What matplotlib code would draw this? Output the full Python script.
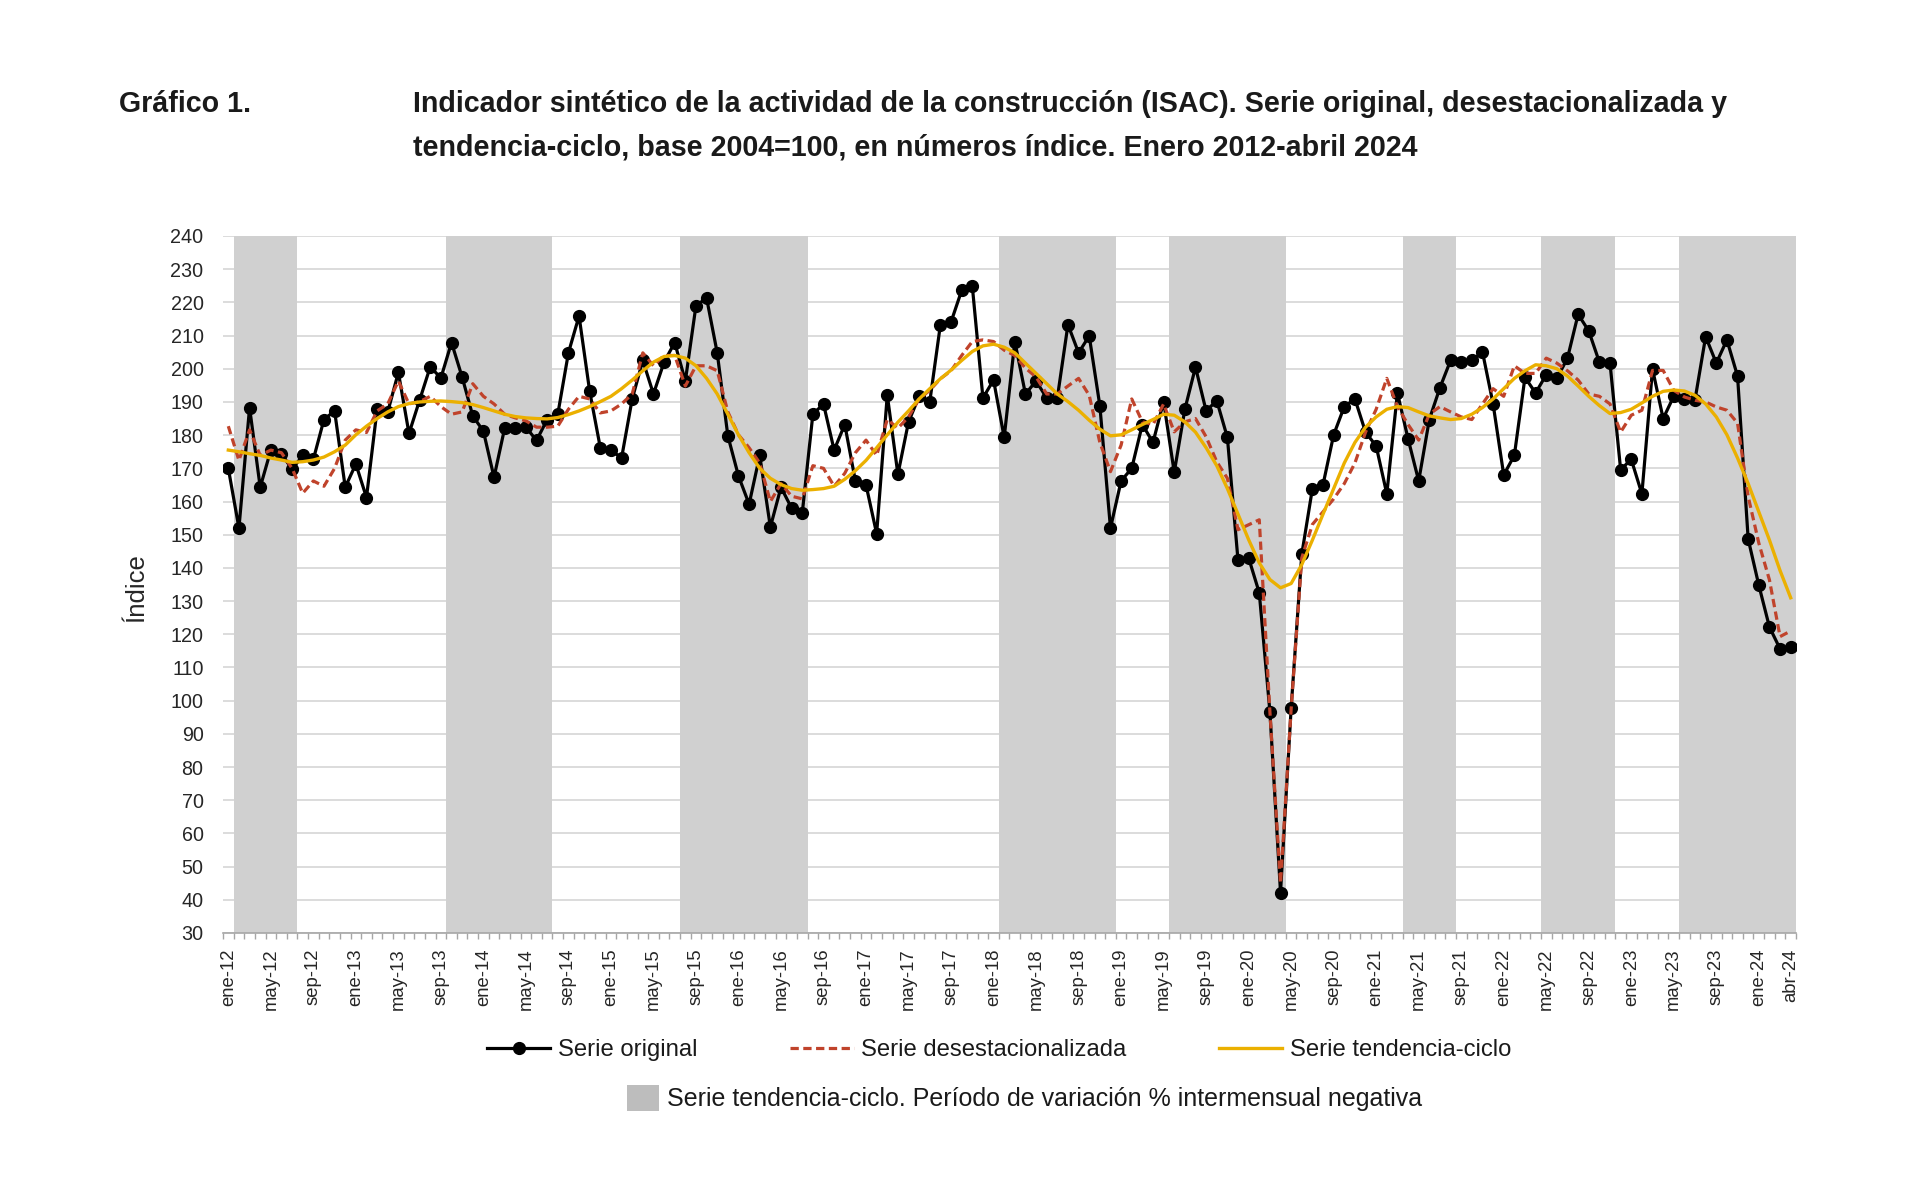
import matplotlib
matplotlib.use("Agg")
import matplotlib.pyplot as plt
from matplotlib.patches import Patch
import numpy as np

plt.rcParams['font.family'] = ['Liberation Sans', 'DejaVu Sans']

# ---------------- data ----------------
month_abbr = ['ene', 'feb', 'mar', 'abr', 'may', 'jun', 'jul', 'ago', 'sep', 'oct', 'nov', 'dic']
years = list(range(2012, 2025))
months = [f"{m}-{str(y)[2:]}" for y in years for m in month_abbr][:148]  # ene-12 .. abr-24

serie_original = [
    170.0, 152.0, 188.3, 164.3, 175.5, 174.4, 169.7, 173.9, 172.7, 184.7, 187.3, 164.3,
    171.3, 161.2, 187.8, 187.0, 198.9, 180.5, 190.6, 200.6, 197.2, 207.9, 197.5, 185.8,
    181.2, 167.3, 182.1, 182.1, 182.4, 178.4, 184.7, 186.3, 204.8, 215.9, 193.2, 176.2,
    175.5, 173.1, 190.9, 202.5, 192.4, 202.0, 207.9, 196.3, 219.0, 221.3, 204.8, 179.8,
    167.7, 159.2, 173.9, 152.3, 164.3, 158.0, 156.5, 186.3, 189.4, 175.5, 183.2, 166.2,
    165.0, 150.3, 192.1, 168.2, 184.0, 191.7, 190.1, 213.3, 214.1, 223.6, 224.9, 191.2,
    196.6, 179.3, 208.2, 192.4, 196.3, 191.2, 191.2, 213.3, 204.8, 209.9, 188.9, 152.0,
    166.2, 170.0, 183.2, 177.8, 190.1, 168.8, 187.8, 200.5, 187.3, 190.4, 179.3, 142.3,
    143.0, 132.5, 96.7, 42.2, 97.8, 144.1, 163.9, 165.1, 180.1, 188.6, 190.9, 180.9,
    176.7, 162.3, 192.7, 178.9, 166.2, 184.7, 194.3, 202.5, 202.0, 202.5, 205.1, 189.4,
    168.0, 173.9, 197.4, 192.7, 198.2, 197.1, 203.2, 216.4, 211.4, 202.0, 201.7, 169.6,
    172.7, 162.3, 199.9, 185.0, 191.7, 190.9, 190.7, 209.7, 201.7, 208.7, 197.8, 148.7,
    134.8, 122.2, 115.6, 116.2,
]

serie_desest = [
    182.7, 172.4, 181.6, 173.9, 175.5, 174.7, 170.0, 162.5, 166.2, 164.6, 170.0, 178.5,
    181.6, 180.8, 187.3, 189.4, 196.3, 189.4, 190.1, 191.7, 188.6, 186.3, 187.0, 195.5,
    191.7, 189.4, 186.3, 185.2, 184.3, 182.4, 182.4, 182.7, 187.8, 191.7, 190.9, 186.7,
    187.3, 189.4, 192.4, 204.8, 200.9, 204.0, 204.0, 194.8, 200.9, 200.9, 199.4, 187.0,
    180.1, 176.2, 171.6, 160.0, 165.4, 161.6, 160.8, 170.8, 170.0, 164.6, 168.5, 174.7,
    178.5, 173.9, 184.7, 182.1, 185.5, 190.9, 193.5, 197.0, 199.4, 204.0, 208.2, 208.7,
    208.2, 205.6, 204.0, 200.2, 197.5, 192.4, 192.4, 194.8, 197.1, 192.0, 177.8, 169.0,
    177.0, 190.9, 184.0, 183.2, 189.4, 181.0, 184.0, 185.0, 179.5, 172.0, 167.0, 151.5,
    153.0, 154.5, 96.7, 45.0, 97.5, 143.0, 153.1, 156.9, 160.8, 165.4, 171.6, 180.9,
    187.8, 197.1, 188.6, 183.2, 178.5, 186.3, 188.6, 187.0, 185.5, 184.7, 189.4, 194.0,
    191.7, 200.9, 198.6, 198.6, 203.2, 201.7, 199.4, 196.6, 192.4, 191.7, 189.4, 180.9,
    186.0, 187.5, 199.5, 199.5, 193.5, 191.5, 190.5, 190.0, 188.5, 187.5, 183.6, 161.5,
    147.5, 136.4, 119.3, 121.0,
]

serie_tendencia = [
    175.5, 175.0, 174.4, 173.9, 173.1, 172.5, 171.8, 172.0, 172.5, 173.4, 175.0, 177.0,
    180.1, 182.7, 185.0, 187.0, 188.6, 189.5, 190.0, 190.2, 190.3, 190.1, 189.8, 189.2,
    188.3, 187.3, 186.3, 185.6, 185.2, 185.0, 184.9, 185.3, 186.2, 187.3, 188.6, 190.1,
    191.7, 194.0, 196.6, 199.4, 202.0, 203.7, 204.0, 203.2, 200.9, 197.1, 192.4, 186.3,
    180.1, 174.7, 170.0, 167.0, 165.1, 163.9, 163.4, 163.6, 163.9, 164.6, 166.7, 169.3,
    172.4, 176.2, 180.1, 183.9, 187.3, 190.9, 194.0, 197.0, 199.6, 202.5, 205.2, 206.9,
    207.4, 206.5, 204.8, 201.7, 198.6, 195.5, 192.4, 190.1, 187.5, 184.5, 181.8, 179.8,
    180.1, 181.6, 183.2, 184.7, 186.3, 186.0, 184.0, 180.9, 176.2, 170.8, 163.9, 156.2,
    148.5, 141.5, 136.5, 134.0, 135.3, 141.0, 148.4, 156.2, 163.9, 171.6, 177.8, 182.4,
    185.5, 187.8, 188.6, 188.3, 187.0, 185.8, 185.2, 184.7, 185.0, 186.3, 188.3, 190.9,
    194.0, 197.1, 199.4, 201.2, 200.9, 200.0, 197.8, 194.8, 191.7, 188.9, 186.5, 186.8,
    187.8, 189.7, 191.7, 193.2, 193.6, 193.3, 192.0, 189.4, 185.5, 180.1, 173.1, 165.4,
    156.9, 148.4, 139.2, 131.0,
]

# periods of negative month-on-month change of the trend-cycle (first, last month)
neg_start = ['feb-12', 'oct-13', 'ago-15', 'feb-18', 'jun-19', 'abr-21', 'may-22', 'jun-23']
neg_end = ['jul-12', 'jul-14', 'jul-16', 'dic-18', 'abr-20', 'ago-21', 'nov-22', 'abr-24']

yticks = list(range(30, 241, 10))

# ---------------- figure ----------------
fig = plt.figure(figsize=(19.2, 11.97), dpi=100)
ax = fig.add_axes([223 / 1920, 1 - 933 / 1197, 1573 / 1920, 697 / 1197])

x = np.arange(len(months))
idx = {m: i for i, m in enumerate(months)}

for s, e in zip(neg_start, neg_end):
    ax.axvspan(idx[s] - 0.5, idx[e] + 0.5, color='#D0D0D0', lw=0, zorder=0.6)

ax.plot(x, serie_original, color='black', lw=2.3, marker='o', ms=8.5,
        label='Serie original', zorder=3)
ax.plot(x, serie_desest, color='#C0432B', lw=2.3, ls=(0, (2.6, 1.4)),
        label='Serie desestacionalizada', zorder=4)
ax.plot(x, serie_tendencia, color='#EBB000', lw=2.4,
        label='Serie tendencia-ciclo', zorder=5)

ax.set_xlim(-0.5, len(months) - 0.5)
ax.set_ylim(30, 240)
ax.set_yticks(yticks)
ax.set_yticklabels([str(v) for v in yticks])
ax.grid(axis='y', color='#D9D9D9', lw=1.3, zorder=0.5)
ax.set_axisbelow(True)

label_pos = list(range(0, len(months), 4)) + [len(months) - 1]
ax.set_xticks(label_pos)
ax.set_xticklabels([months[i] for i in label_pos], rotation=90, fontsize=13.3,
                   color='#262626')
ax.set_xticks(np.arange(-0.5, len(months)), minor=True)
ax.tick_params(axis='x', which='major', length=0, pad=11)
ax.tick_params(axis='x', which='minor', length=4, width=1, color='#A6A6A6')
ax.tick_params(axis='y', length=0, pad=14, labelsize=14.2, labelcolor='#262626')

for side in ['left', 'right', 'top']:
    ax.spines[side].set_visible(False)
ax.spines['bottom'].set_color('#A6A6A6')
ax.spines['bottom'].set_linewidth(1.2)

ax.set_ylabel('Índice', fontsize=18.5, color='#262626')
ax.yaxis.set_label_coords(-0.0475, 0.495)

# ---------------- titles ----------------
title_kw = dict(fontsize=20.6, fontweight='bold', ha='left', va='center', color='#1a1a1a')
fig.text(119 / 1920, 1 - 104 / 1197, 'Gráfico 1.', **title_kw)
fig.text(413 / 1920, 1 - 104 / 1197,
         'Indicador sintético de la actividad de la construcción (ISAC). Serie original, desestacionalizada y',
         **title_kw)
fig.text(413 / 1920, 1 - 148 / 1197,
         'tendencia-ciclo, base 2004=100, en números índice. Enero 2012-abril 2024',
         **title_kw)

# ---------------- legends ----------------
handles, labels = ax.get_legend_handles_labels()
fig.legend(handles, labels, ncol=3, loc='center', bbox_to_anchor=(999 / 1920, 1 - 1050 / 1197),
           frameon=False, fontsize=17.2, handlelength=2.65, handletextpad=0.3,
           columnspacing=3.9, numpoints=1, labelcolor='#1a1a1a')
neg_handle = Patch(facecolor='#BDBDBD', edgecolor='none')
fig.legend([neg_handle], ['Serie tendencia-ciclo. Período de variación % intermensual negativa'],
           loc='center', bbox_to_anchor=(1025 / 1920, 1 - 1098 / 1197), frameon=False,
           fontsize=18.0, handlelength=1.25, handleheight=1.25, handletextpad=0.35,
           labelcolor='#1a1a1a')

fig.savefig('out.png', dpi=100, facecolor='white')
